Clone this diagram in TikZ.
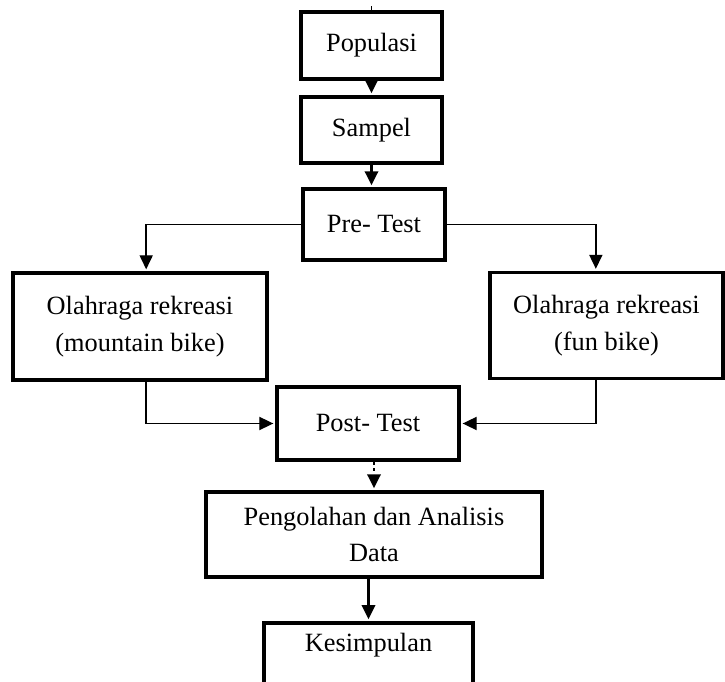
\documentclass[tikz,border=0pt]{standalone}
\usepackage{fontspec}
\setmainfont{Liberation Serif}
\usetikzlibrary{arrows.meta,calc}

\begin{document}
\begin{tikzpicture}[x=0.02cm,y=-0.02cm,
  kotak/.style={draw, line width=2.2pt, align=center, inner sep=2pt,
    font=\fontsize{15}{21}\selectfont},
  panah/.style={-{Triangle[length=8pt,width=7.5pt]}, line width=1.6pt, shorten >=1pt},
  garis/.style={-{Triangle[length=8pt,width=7.5pt]}, line width=0.8pt, shorten >=1pt}]
  \useasboundingbox (0,0) rectangle (725,682);
  \clip (0,0) rectangle (725,682);

  % kotak alur
  \node[kotak, minimum width=2.82cm, minimum height=1.34cm] (pop) at (371.5,45.5) {Populasi};
  \node[kotak, minimum width=2.82cm, minimum height=1.32cm] (sam) at (371.5,130) {Sampel};
  \node[kotak, minimum width=2.84cm, minimum height=1.42cm] (pre) at (374,224.5) {Pre- Test};
  \node[kotak, minimum width=5.08cm, minimum height=2.14cm] (mtb) at (140,326.5)
    {Olahraga rekreasi\\(mountain bike)};
  \node[kotak, minimum width=4.66cm, minimum height=2.12cm] (fun) at (606.5,325.5)
    {Olahraga rekreasi\\(fun bike)};
  \node[kotak, minimum width=3.64cm, minimum height=1.46cm] (post) at (368,423.5) {Post- Test};
  \node[kotak, minimum width=6.72cm, minimum height=1.70cm] (olah) at (374,534.5)
    {Pengolahan dan Analisis\\Data};
  \node[kotak, minimum width=4.18cm, anchor=north, inner ysep=6pt, text depth=1.5cm] (kes)
    at (368.5,621) {Kesimpulan};

  % panah
  \draw[line width=0.8pt] (pop.north) -- ++(0,-4);
  \draw[panah] (pop) -- (sam);
  \draw[panah] (sam.south) -- (sam.south |- pre.north);
  \draw[garis] (pre.west) -| ($(mtb.north west)!0.524!(mtb.north east)$);
  \draw[garis] (pre.east) -| ($(fun.north west)!0.455!(fun.north east)$);
  \draw[garis] ($(mtb.south west)!0.524!(mtb.south east)$) |- (post.west);
  \draw[garis] ($(fun.south west)!0.455!(fun.south east)$) |- (post.east);
  \draw[panah, dotted] (olah.north |- post.south) -- (olah.north);
  \draw[panah] (kes.north |- olah.south) -- (kes.north);

\end{tikzpicture}
\end{document}
